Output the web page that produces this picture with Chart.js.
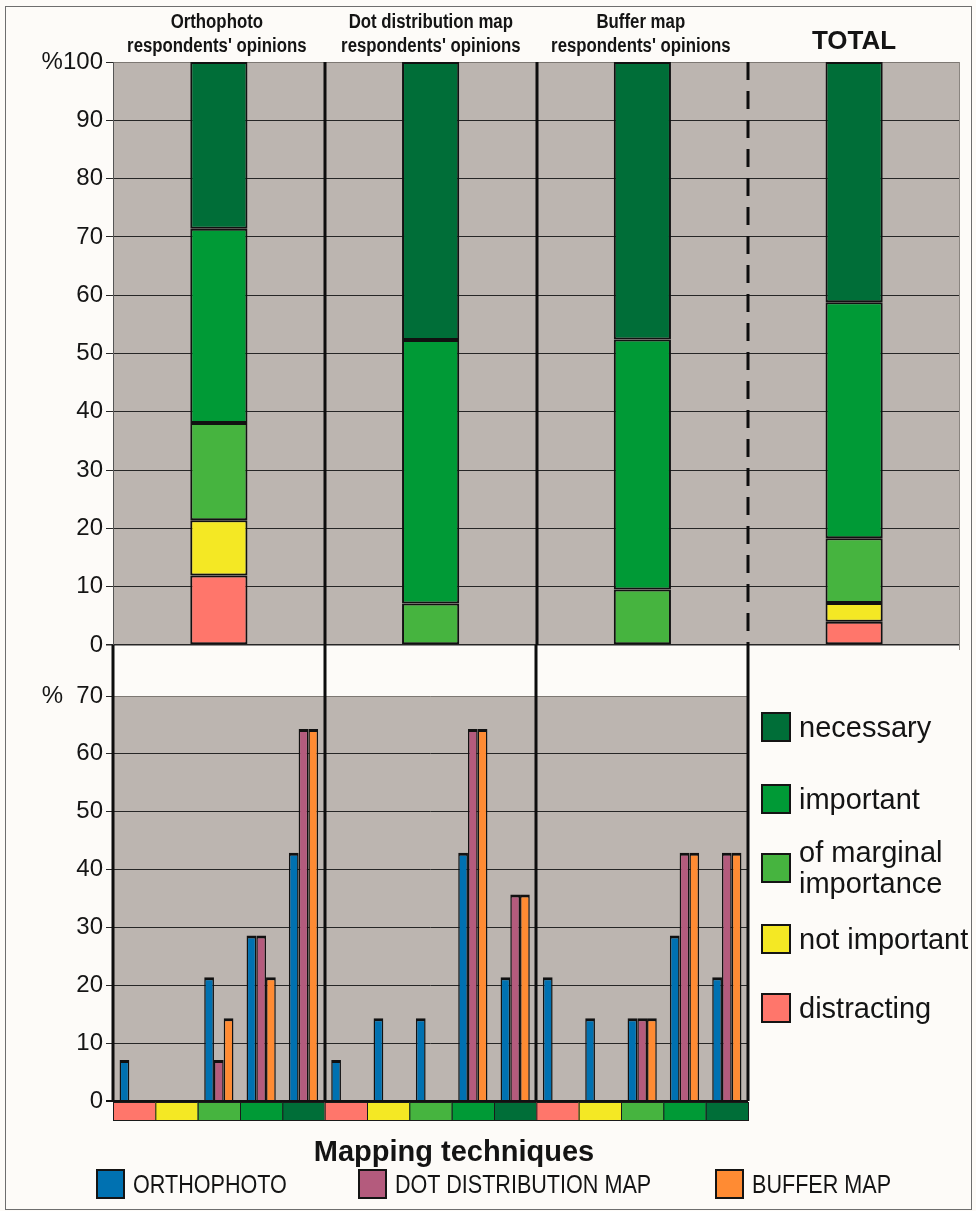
<!DOCTYPE html>
<html>
<head>
<meta charset="utf-8">
<script src="https://cdn.jsdelivr.net/npm/chart.js@4.4.1/dist/chart.umd.min.js"></script>
<style>
  body { margin: 0; background: #fdfbf8; font-family: "Liberation Sans", Arial, sans-serif; }
  #page { position: relative; width: 976px; height: 1211px; overflow: hidden; }
  canvas { position: absolute; left: 0; top: 0; }
  .frame { position: absolute; left: 5px; top: 6px; width: 965px; height: 1202px; border: 1px solid #6e6e6e; }
  .t { position: absolute; white-space: nowrap; color: #141414; }
  .nar { display: inline-block; transform-origin: center; }
  .sq { position: absolute; border: 2px solid #141414; box-sizing: border-box; }
</style>
</head>
<body>
<div id="page">
  <div class="frame"></div>
  <canvas id="topChart" width="976" height="1211"></canvas>
  <canvas id="bottomChart" width="976" height="1211"></canvas>
</div>
<script>
// upper chart: share of opinions per map type (stacked, %)
const topCategories = ['Orthophoto', 'Dot distribution map', 'Buffer map', 'TOTAL'];
const opinionLabels = ['distracting', 'not important', 'of marginal importance', 'important', 'necessary'];
const opinionColors = ['#ff766b', '#f4e824', '#46b43f', '#009a36', '#006e38'];

const topDistracting  = [11.9, 0, 0, 4.0];
const topNotImportant = [9.5, 0, 0, 3.2];
const topMarginal     = [16.7, 7.1, 9.5, 11.1];
const topImportant    = [33.3, 45.2, 42.9, 40.5];
const topNecessary    = [28.6, 47.7, 47.6, 41.2];

// lower chart: % of respondents per opinion, by mapping technique
const groups = ['Orthophoto', 'Dot distribution map', 'Buffer map'];
const techniques = ['ORTHOPHOTO', 'DOT DISTRIBUTION MAP', 'BUFFER MAP'];
const techniqueColors = ['#0071b1', '#b45b7d', '#ff8b33'];

const orthophotoVals = [7.1, 0, 21.4, 28.6, 42.9,  7.1, 14.3, 14.3, 42.9, 21.4,  21.4, 14.3, 14.3, 28.6, 21.4];
const dotMapVals     = [0, 0, 7.1, 28.6, 64.3,     0, 0, 0, 64.3, 35.7,          0, 0, 14.3, 42.9, 42.9];
const bufferMapVals  = [0, 0, 14.3, 21.4, 64.3,    0, 0, 0, 64.3, 35.7,          0, 0, 14.3, 42.9, 42.9];

const topTicks = [0, 10, 20, 30, 40, 50, 60, 70, 80, 90, 100];
const bottomTicks = [0, 10, 20, 30, 40, 50, 60, 70];

const plotGray = '#bcb5b0';
Chart.defaults.font.family = '"Liberation Sans", Arial, sans-serif';

function el(id) { return document.getElementById(id); }

// gray plot area + column separators for the upper chart
const topDeco = {
  id: 'topDeco',
  beforeDraw(chart) {
    const a = chart.chartArea, c = chart.ctx;
    c.save();
    c.fillStyle = plotGray;
    c.fillRect(a.left, a.top, a.right - a.left, a.bottom - a.top);
    c.restore();
  },
  afterDraw(chart) {
    const a = chart.chartArea, c = chart.ctx;
    const w = (a.right - a.left) / topCategories.length;
    c.save();
    c.strokeStyle = '#0d0d0d';
    c.lineWidth = 3;
    for (let k = 1; k < topCategories.length; k++) {
      const x = Math.round(a.left + k * w);
      c.setLineDash(k === topCategories.length - 1 ? [18, 11] : []);
      c.beginPath(); c.moveTo(x, a.top); c.lineTo(x, a.bottom); c.stroke();
    }
    c.setLineDash([]);
    c.strokeStyle = '#8a8580';
    c.lineWidth = 1;
    c.beginPath(); c.moveTo(a.right - 0.5, a.top); c.lineTo(a.right - 0.5, a.bottom + 5); c.stroke();
    c.restore();
  }
};

// gray plot area, group separators and opinion colour strip for the lower chart
const bottomDeco = {
  id: 'bottomDeco',
  beforeDraw(chart) {
    const a = chart.chartArea, c = chart.ctx;
    c.save();
    c.fillStyle = plotGray;
    c.fillRect(a.left, a.top, a.right - a.left, a.bottom - a.top);
    c.restore();
  },
  afterDraw(chart) {
    const a = chart.chartArea, c = chart.ctx;
    const n = chart.data.labels.length;
    const cw = (a.right - a.left) / n;
    c.save();
    // colour strip under the axis
    for (let i = 0; i < n; i++) {
      const x0 = a.left + i * cw;
      c.fillStyle = opinionColors[i % opinionColors.length];
      c.fillRect(x0, a.bottom + 1, cw, 18);
      c.strokeStyle = '#1a1a1a';
      c.lineWidth = 1;
      c.strokeRect(x0 + 0.5, a.bottom + 1.5, cw, 18);
    }
    // heavy group separators, reaching up to the upper chart
    const gw = (a.right - a.left) / groups.length;
    c.strokeStyle = '#0d0d0d';
    c.lineWidth = 3;
    for (let k = 0; k <= groups.length; k++) {
      const x = Math.round(a.left + k * gw);
      c.beginPath(); c.moveTo(x, 645); c.lineTo(x, a.bottom); c.stroke();
    }
    c.strokeStyle = '#111';
    c.lineWidth = 2;
    c.beginPath(); c.moveTo(a.left - 7, a.bottom); c.lineTo(a.right, a.bottom); c.stroke();
    c.restore();
  }
};

new Chart(el('topChart'), {
  type: 'bar',
  data: {
    labels: topCategories,
    datasets: [topDistracting, topNotImportant, topMarginal, topImportant, topNecessary].map((d, i) => ({
      label: opinionLabels[i],
      data: d,
      backgroundColor: opinionColors[i],
      borderColor: '#111',
      borderWidth: 2,
      borderSkipped: false,
      barPercentage: 0.27,
      categoryPercentage: 1
    }))
  },
  options: {
    responsive: false,
    animation: false,
    layout: { padding: { left: 0, right: 16, top: 62, bottom: 566 } },
    plugins: { legend: { display: false }, tooltip: { enabled: false } },
    scales: {
      x: { stacked: true, display: false },
      y: {
        stacked: true, min: 0, max: 100,
        afterFit(s) { s.width = 113; },
        afterBuildTicks(s) { s.ticks = topTicks.map(v => ({ value: v })); },
        ticks: { color: '#151515', font: { size: 24 }, padding: 3,
          callback: v => v === 100 ? '%100' : String(v) },
        grid: {
          color: ctx => ctx.tick && ctx.tick.value === 100 ? '#7d7873' : '#262626',
          lineWidth: ctx => ctx.tick && ctx.tick.value === 0 ? 1.5 : 1,
          tickLength: 7, tickColor: '#262626'
        },
        border: { display: true, color: '#555', width: 1 }
      }
    }
  },
  plugins: [topDeco]
});

new Chart(el('bottomChart'), {
  type: 'bar',
  data: {
    labels: groups.flatMap(g => opinionLabels.map(o => g + ' – ' + o)),
    datasets: [orthophotoVals, dotMapVals, bufferMapVals].map((d, i) => ({
      label: techniques[i],
      data: d,
      backgroundColor: techniqueColors[i],
      borderColor: '#111',
      borderWidth: { top: 3, left: 1.5, right: 1.5, bottom: 0 },
      borderSkipped: 'start',
      barPercentage: 1,
      categoryPercentage: 0.69
    }))
  },
  options: {
    responsive: false,
    animation: false,
    layout: { padding: { left: 0, right: 228, top: 696, bottom: 110 } },
    plugins: { legend: { display: false }, tooltip: { enabled: false } },
    scales: {
      x: { display: false },
      y: {
        min: 0, max: 70,
        afterFit(s) { s.width = 113; },
        afterBuildTicks(s) { s.ticks = bottomTicks.map(v => ({ value: v })); },
        ticks: { color: '#151515', font: { size: 24 }, padding: 3,
          callback: v => v === 70 ? '%  70' : String(v) },
        grid: {
          color: ctx => ctx.tick && ctx.tick.value === 70 ? '#7d7873' : '#262626',
          tickLength: 7, tickColor: '#262626'
        },
        border: { display: false }
      }
    }
  },
  plugins: [bottomDeco]
});

// headers, legends and axis title as html text
const page = el('page');
function addText(html, css) {
  const d = document.createElement('div');
  d.className = 't';
  d.innerHTML = html;
  Object.assign(d.style, css);
  page.appendChild(d);
  return d;
}
const colCenters = [217, 431, 641];
groups.forEach((g, i) => {
  addText(`<span class="nar" style="transform:scaleX(0.84)">${g}<br>respondents' opinions</span>`,
    { left: (colCenters[i] - 150) + 'px', top: '9px', width: '300px', textAlign: 'center',
      font: 'bold 20px/24px "Liberation Sans", Arial, sans-serif' });
});
addText('TOTAL', { left: '754px', top: '25px', width: '200px', textAlign: 'center',
  font: 'bold 26px/30px "Liberation Sans", Arial, sans-serif' });

// opinion legend (right side), top to bottom
const legendTops = [712, 784, 853, 924, 993];
const legendText = ['necessary', 'important', 'of marginal<br>importance', 'not important', 'distracting'];
[4, 3, 2, 1, 0].forEach((k, j) => {
  const sq = document.createElement('div');
  sq.className = 'sq';
  Object.assign(sq.style, { left: '761px', top: legendTops[j] + 'px', width: '30px', height: '30px', background: opinionColors[k] });
  page.appendChild(sq);
  const two = legendText[j].includes('<br>');
  addText(legendText[j], { left: '799px', top: (two ? legendTops[j] - 16 : legendTops[j]) + 'px',
    font: '29px/31px "Liberation Sans", Arial, sans-serif' });
});

addText('Mapping techniques', { left: '254px', top: '1134px', width: '400px', textAlign: 'center',
  font: 'bold 29px/34px "Liberation Sans", Arial, sans-serif' });

const techSquareX = [96, 358, 715];
techniques.forEach((t, i) => {
  const sq = document.createElement('div');
  sq.className = 'sq';
  Object.assign(sq.style, { left: techSquareX[i] + 'px', top: '1169px', width: '29px', height: '30px', background: techniqueColors[i] });
  page.appendChild(sq);
  addText(`<span class="nar" style="transform:scaleX(0.83);transform-origin:left">${t}</span>`,
    { left: (techSquareX[i] + 37) + 'px', top: '1169px', font: '26px/30px "Liberation Sans", Arial, sans-serif' });
});
</script>
</body>
</html>
